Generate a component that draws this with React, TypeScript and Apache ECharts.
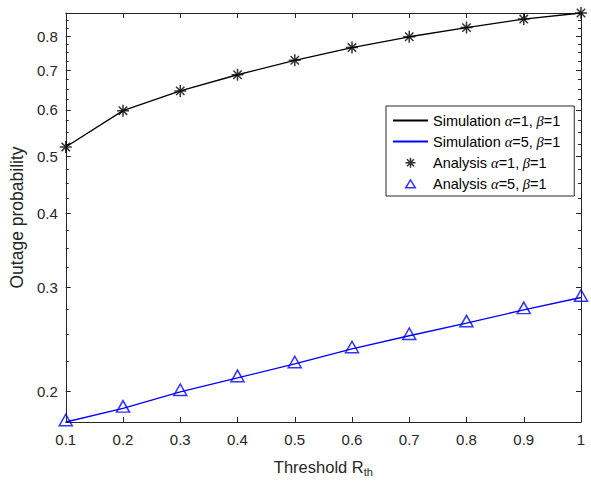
import React, { useEffect, useRef } from 'react';
import * as echarts from 'echarts';

// ---- data ----
const thresholds = [0.1, 0.2, 0.3, 0.4, 0.5, 0.6, 0.7, 0.8, 0.9, 1.0];
const simAlpha1 = [0.519, 0.598, 0.646, 0.688, 0.728, 0.765, 0.798, 0.827, 0.855, 0.8756];
const simAlpha5 = [0.1773, 0.187, 0.1995, 0.2106, 0.2224, 0.2358, 0.2483, 0.2609, 0.2747, 0.2883];
const anaAlpha1 = [0.519, 0.598, 0.646, 0.688, 0.728, 0.765, 0.798, 0.827, 0.855, 0.8756];
const anaAlpha5 = [0.1773, 0.187, 0.1995, 0.2106, 0.2224, 0.2358, 0.2483, 0.2609, 0.2747, 0.2883];

const xTicks = [0.1, 0.2, 0.3, 0.4, 0.5, 0.6, 0.7, 0.8, 0.9, 1];
const yMajorTicks = [0.2, 0.3, 0.4, 0.5, 0.6, 0.7, 0.8];
const yMinorTicks = [
  0.225, 0.25, 0.275, 0.325, 0.35, 0.375, 0.425, 0.45, 0.475, 0.525, 0.55, 0.575,
  0.625, 0.65, 0.675, 0.725, 0.75, 0.775, 0.825, 0.85,
];
const yMin = 0.1773;
const yMax = 0.8756;

const seriesNames = [
  'Simulation α=1,β=1',
  'Simulation α=5,β=1',
  'Analysis α=1,β=1',
  'Analysis α=5,β=1',
];

const STAR = 'path://M0,-5L0,5M-5,0L5,0M-3.5,-3.5L3.5,3.5M-3.5,3.5L3.5,-3.5';
const TRI = 'path://M0,-5.5L6,5.5L-6,5.5Z';
const STAR_LEG = 'path://M-7,-7M7,7M0,-5L0,5M-5,0L5,0M-3.5,-3.5L3.5,3.5M-3.5,3.5L3.5,-3.5';
const TRI_LEG = 'path://M-8,-8M8,8M0,-5L5.5,4L-5.5,4Z';

const AX = '#262626';
const FONT = 'Liberation Sans, Arial, Helvetica, sans-serif';

const pairs = (ys: number[]) => thresholds.map((x, i) => [x, ys[i]]);

export default function App() {
  const ref = useRef<HTMLDivElement>(null);
  useEffect(() => {
    if (!ref.current) return;
    const chart = echarts.init(ref.current, undefined, { renderer: 'svg' });
    const yBase = { type: 'log', logBase: 10, min: yMin, max: yMax, splitLine: { show: false } };
    chart.setOption({
      animation: false,
      backgroundColor: '#fff',
      textStyle: { fontFamily: FONT },
      grid: { left: 60, right: 10, top: 13, bottom: 58, containLabel: false },
      xAxis: [
        {
          type: 'value', min: 0.1, max: 1, position: 'bottom',
          name: 'Threshold R{sub|th}', nameLocation: 'middle', nameGap: 35,
          nameTextStyle: {
            fontSize: 16.5, color: AX, fontFamily: FONT, lineHeight: 20,
            rich: { sub: { fontSize: 11, color: AX, fontFamily: FONT, verticalAlign: 'bottom', lineHeight: 12 } },
          },
          axisLine: { show: true, lineStyle: { color: AX, width: 1 } },
          axisTick: { show: true, inside: true, length: 5, customValues: xTicks, lineStyle: { color: AX } },
          axisLabel: {
            show: true, customValues: xTicks, margin: 10, fontSize: 15, color: AX, fontFamily: FONT,
            formatter: (v: number) => String(Math.round(v * 10) / 10),
          },
          splitLine: { show: false },
        },
        {
          type: 'value', min: 0.1, max: 1, position: 'top',
          axisLine: { show: true, lineStyle: { color: AX, width: 1 } },
          axisTick: { show: true, inside: true, length: 5, customValues: xTicks, lineStyle: { color: AX } },
          axisLabel: { show: false },
          splitLine: { show: false },
        },
      ],
      yAxis: [
        {
          ...yBase, position: 'left',
          name: 'Outage probability', nameLocation: 'middle', nameGap: 39,
          nameTextStyle: { fontSize: 17.5, color: AX, fontFamily: FONT },
          axisLine: { show: true, lineStyle: { color: AX, width: 1 } },
          axisTick: { show: true, inside: true, length: 5, customValues: yMajorTicks, lineStyle: { color: AX } },
          axisLabel: {
            show: true, customValues: yMajorTicks, margin: 8, fontSize: 15, color: AX, fontFamily: FONT,
            formatter: (v: number) => String(Math.round(v * 10) / 10),
          },
        },
        {
          ...yBase, position: 'left',
          axisLine: { show: false },
          axisTick: { show: true, inside: true, length: 3, customValues: yMinorTicks, lineStyle: { color: AX } },
          axisLabel: { show: false },
        },
        {
          ...yBase, position: 'right',
          axisLine: { show: true, lineStyle: { color: AX, width: 1 } },
          axisTick: { show: true, inside: true, length: 5, customValues: yMajorTicks, lineStyle: { color: AX } },
          axisLabel: { show: false },
        },
        {
          ...yBase, position: 'right',
          axisLine: { show: false },
          axisTick: { show: true, inside: true, length: 3, customValues: yMinorTicks, lineStyle: { color: AX } },
          axisLabel: { show: false },
        },
      ],
      legend: {
        orient: 'vertical',
        left: 386, top: 106,
        padding: [7, 14, 4, 6],
        itemWidth: 35, itemHeight: 14, itemGap: 6,
        backgroundColor: '#fff',
        borderColor: AX, borderWidth: 1, borderRadius: 0,
        itemStyle: { borderWidth: 1.5 },
        textStyle: {
          fontSize: 14.5, color: '#000', fontFamily: FONT, lineHeight: 14,
          rich: {
            g: { fontSize: 14.5, fontStyle: 'italic', fontFamily: 'Liberation Serif, serif', color: '#000', lineHeight: 14 },
            t: { fontSize: 14.5, color: '#000', fontFamily: FONT, lineHeight: 14 },
          },
        },
        formatter: (name: string) =>
          name.replace(/^(\S+) /, '{t|$1 }').replace('α', '{g|α}').replace(',β', ',{g| β}').replace(/=(\d)/g, '{t|=$1}'),
        data: [
          { name: seriesNames[0], itemStyle: { opacity: 0 } },
          { name: seriesNames[1], itemStyle: { opacity: 0 } },
          { name: seriesNames[2], icon: STAR_LEG },
          { name: seriesNames[3], icon: TRI_LEG },
        ],
      },
      series: [
        {
          name: seriesNames[0], type: 'line', xAxisIndex: 0, yAxisIndex: 0,
          data: pairs(simAlpha1), symbol: 'none', showSymbol: false,
          lineStyle: { color: '#000', width: 1.3 }, itemStyle: { color: '#000' }, z: 2,
        },
        {
          name: seriesNames[1], type: 'line', xAxisIndex: 0, yAxisIndex: 0,
          data: pairs(simAlpha5), symbol: 'none', showSymbol: false,
          lineStyle: { color: '#0000ff', width: 1.3 }, itemStyle: { color: '#0000ff' }, z: 2,
        },
        {
          name: seriesNames[2], type: 'scatter', xAxisIndex: 0, yAxisIndex: 0,
          data: pairs(anaAlpha1), symbol: STAR, symbolSize: 12,
          itemStyle: { color: 'transparent', borderColor: '#000', borderWidth: 1.5 }, z: 3,
        },
        {
          name: seriesNames[3], type: 'scatter', xAxisIndex: 0, yAxisIndex: 0,
          data: pairs(anaAlpha5), symbol: TRI, symbolSize: [13, 11.5], symbolOffset: [0, -2],
          itemStyle: { color: 'transparent', borderColor: '#0000ff', borderWidth: 1.5 }, z: 3,
        },
      ],
    });
    return () => chart.dispose();
  }, []);
  return <div ref={ref} style={{ width: 591, height: 482, position: 'absolute', left: 0, top: 0 }} />;
}
